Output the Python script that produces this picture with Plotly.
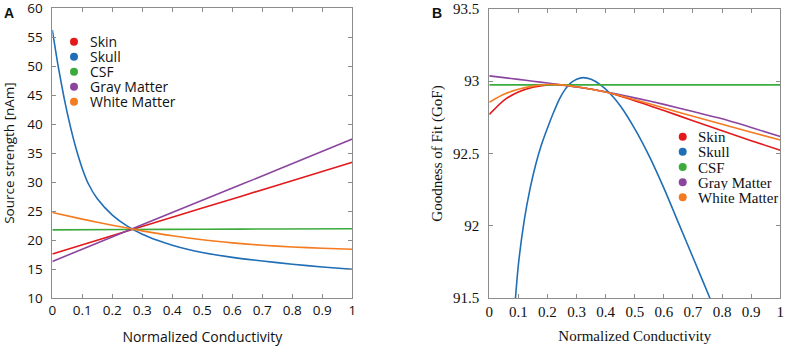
import plotly.graph_objects as go

names = ["Skin", "Skull", "CSF", "Gray Matter", "White Matter"]
colors = ["#e3191c", "#1f6eb6", "#3cab3c", "#8b459f", "#f47b20"]

# Panel A: source strength [nAm]
a_x_lin = [0, 0.25, 0.5, 0.75, 1.0]
a_skin = [17.6, 21.55, 25.5, 29.45, 33.4]
a_gray = [16.3, 21.6, 26.85, 32.1, 37.4]
a_csf = [21.75, 21.8, 21.85, 21.9, 21.95]
a_skull_x = [0, 0.02, 0.04, 0.06, 0.08, 0.1, 0.12, 0.15, 0.2, 0.25, 0.3, 0.35, 0.4, 0.45, 0.5, 0.6, 0.7, 0.8, 0.9, 1.0]
a_skull = [56.2, 49.8, 44.3, 39.6, 35.6, 32.3, 29.7, 27.1, 24.3, 22.4, 21.0, 19.95, 19.1, 18.4, 17.85, 17.0, 16.38, 15.83, 15.35, 14.95]
a_white_x = [0, 0.1, 0.2, 0.3, 0.4, 0.5, 0.6, 0.7, 0.8, 0.9, 1.0]
a_white = [24.75, 23.6, 22.55, 21.58, 20.72, 20.03, 19.5, 19.1, 18.8, 18.58, 18.4]

# Panel B: goodness of fit (GoF)
b_x = [0, 0.05, 0.1, 0.15, 0.2, 0.25, 0.3, 0.4, 0.5, 0.6, 0.7, 0.8, 0.9, 1.0]
b_skin = [92.77, 92.868, 92.925, 92.958, 92.975, 92.975, 92.962, 92.925, 92.865, 92.797, 92.727, 92.657, 92.589, 92.522]
b_csf = [92.975] * 14
b_gray = [93.037, 93.025, 93.013, 93.0, 92.988, 92.974, 92.96, 92.927, 92.885, 92.84, 92.79, 92.74, 92.68, 92.617]
b_white = [92.855, 92.91, 92.945, 92.966, 92.977, 92.975, 92.962, 92.925, 92.872, 92.815, 92.757, 92.702, 92.647, 92.594]
b_skull_x = [0.08, 0.09, 0.1, 0.12, 0.14, 0.16, 0.18, 0.2, 0.22, 0.24, 0.26, 0.28, 0.3, 0.323,
             0.35, 0.38, 0.415, 0.45, 0.5, 0.55, 0.6, 0.65, 0.7, 0.758, 0.8]
b_skull = [91.25, 91.5, 91.73, 92.036, 92.255, 92.427, 92.565, 92.677, 92.78, 92.873, 92.942, 92.988, 93.014, 93.025,
           93.013, 92.978, 92.915, 92.83, 92.67, 92.48, 92.26, 92.02, 91.78, 91.5, 91.3]

a_series = [(a_x_lin, a_skin), (a_skull_x, a_skull), (a_x_lin, a_csf), (a_x_lin, a_gray), (a_white_x, a_white)]
b_series = [(b_x, b_skin), (b_skull_x, b_skull), (b_x, b_csf), (b_x, b_gray), (b_x, b_white)]

W, H, T, B = 787, 348, 8, 50
PH = H - T - B

fig = go.Figure()
for nm, col, (xs, ys) in zip(names, colors, a_series):
    fig.add_trace(go.Scatter(x=xs, y=ys, mode="lines", name=nm, line=dict(color=col, width=1.6, shape="spline", smoothing=0.6),
                             showlegend=False, xaxis="x", yaxis="y"))
for nm, col, (xs, ys) in zip(names, colors, b_series):
    fig.add_trace(go.Scatter(x=xs, y=ys, mode="lines", name=nm, line=dict(color=col, width=1.6, shape="spline", smoothing=0.6),
                             showlegend=False, xaxis="x2", yaxis="y2"))

sans = "Open Sans, Noto Sans, sans-serif"
serif = "Liberation Serif, Times New Roman, serif"
ink = "#111111"
axcommon = dict(showline=True, linecolor="#8c8c8c", linewidth=1, mirror="ticks", ticks="inside",
                ticklen=4, tickcolor="#8c8c8c", showgrid=False, zeroline=False,
                automargin=False, ticklabeloverflow="allow")

x_ticks = [0, 0.1, 0.2, 0.3, 0.4, 0.5, 0.6, 0.7, 0.8, 0.9, 1]
x_ticktext = ["0", "0.1", "0.2", "0.3", "0.4", "0.5", "0.6", "0.7", "0.8", "0.9", "1"]
a_yticks = [10, 15, 20, 25, 30, 35, 40, 45, 50, 55, 60]
b_yticks = [91.5, 92, 92.5, 93, 93.5]
b_yticktext = ["91.5", "92", "92.5", "93", "93.5"]

# custom legends (tight spacing as in the original figure)
def px_to_paper(px, py):
    return px / W, (H - B - py) / PH

shapes, annotations = [], []
legend_specs = [
    dict(mx=74.0, y0=41.7, step=15.0, tx=89.0, font=dict(family=sans, size=14, color=ink), r=4.0),
    dict(mx=682.7, y0=136.7, step=15.15, tx=697.0, font=dict(family=serif, size=15, color=ink), r=4.0),
]
for spec in legend_specs:
    for i, (nm, col) in enumerate(zip(names, colors)):
        cy = spec["y0"] + i * spec["step"]
        x0, y0 = px_to_paper(spec["mx"] - spec["r"], cy + spec["r"])
        x1, y1 = px_to_paper(spec["mx"] + spec["r"], cy - spec["r"])
        shapes.append(dict(type="circle", xref="paper", yref="paper", x0=x0, y0=y0, x1=x1, y1=y1,
                           fillcolor=col, line=dict(width=0)))
        tx, ty = px_to_paper(spec["tx"], cy)
        annotations.append(dict(text=nm, x=tx, y=ty, xref="paper", yref="paper", xanchor="left", yanchor="middle",
                                showarrow=False, font=spec["font"], height=15, borderpad=0))

ax_, ay_ = px_to_paper(3.3, 4.0)
bx_, by_ = px_to_paper(430.7, 4.0)
annotations += [
    dict(text="<b>A</b>", x=ax_, y=ay_, xref="paper", yref="paper", xanchor="left", yanchor="top",
         showarrow=False, borderpad=0, font=dict(family="Liberation Sans, Arial, sans-serif", size=14, color=ink)),
    dict(text="<b>B</b>", x=bx_, y=by_, xref="paper", yref="paper", xanchor="left", yanchor="top",
         showarrow=False, borderpad=0, font=dict(family="Liberation Sans, Arial, sans-serif", size=14, color=ink)),
]

fig.update_layout(
    width=W, height=H,
    margin=dict(l=0, r=0, t=T, b=B, autoexpand=False),
    paper_bgcolor="white", plot_bgcolor="white",
    showlegend=False,
    xaxis=dict(domain=[0.0665, 0.4477], range=[0, 1], tickvals=x_ticks, ticktext=x_ticktext,
               title=dict(text="Normalized Conductivity", font=dict(family=sans, size=14, color=ink), standoff=13),
               tickfont=dict(family=sans, size=13.5, color=ink), **axcommon),
    yaxis=dict(domain=[0, 1], range=[10, 60], tickvals=a_yticks, anchor="x",
               title=dict(text="Source strength [nAm]", font=dict(family=sans, size=13.5, color=ink), standoff=10),
               tickfont=dict(family=sans, size=13.5, color=ink), ticklabelstandoff=6, **axcommon),
    xaxis2=dict(domain=[0.6217, 0.9915], range=[0, 1], tickvals=x_ticks, ticktext=x_ticktext, anchor="y2",
                title=dict(text="Normalized Conductivity", font=dict(family=serif, size=15, color=ink), standoff=11),
                tickfont=dict(family=serif, size=15, color=ink), **axcommon),
    yaxis2=dict(domain=[0, 0.9966], range=[91.5, 93.5], tickvals=b_yticks, ticktext=b_yticktext, anchor="x2",
                title=dict(text="Goodness of Fit (GoF)", font=dict(family=serif, size=15, color=ink), standoff=6),
                tickfont=dict(family=serif, size=15, color=ink), ticklabelstandoff=6, **axcommon),
    shapes=shapes,
    annotations=annotations,
)

fig.write_html("out.html", config={"displayModeBar": False},
               post_script="document.body.style.margin='0';")
